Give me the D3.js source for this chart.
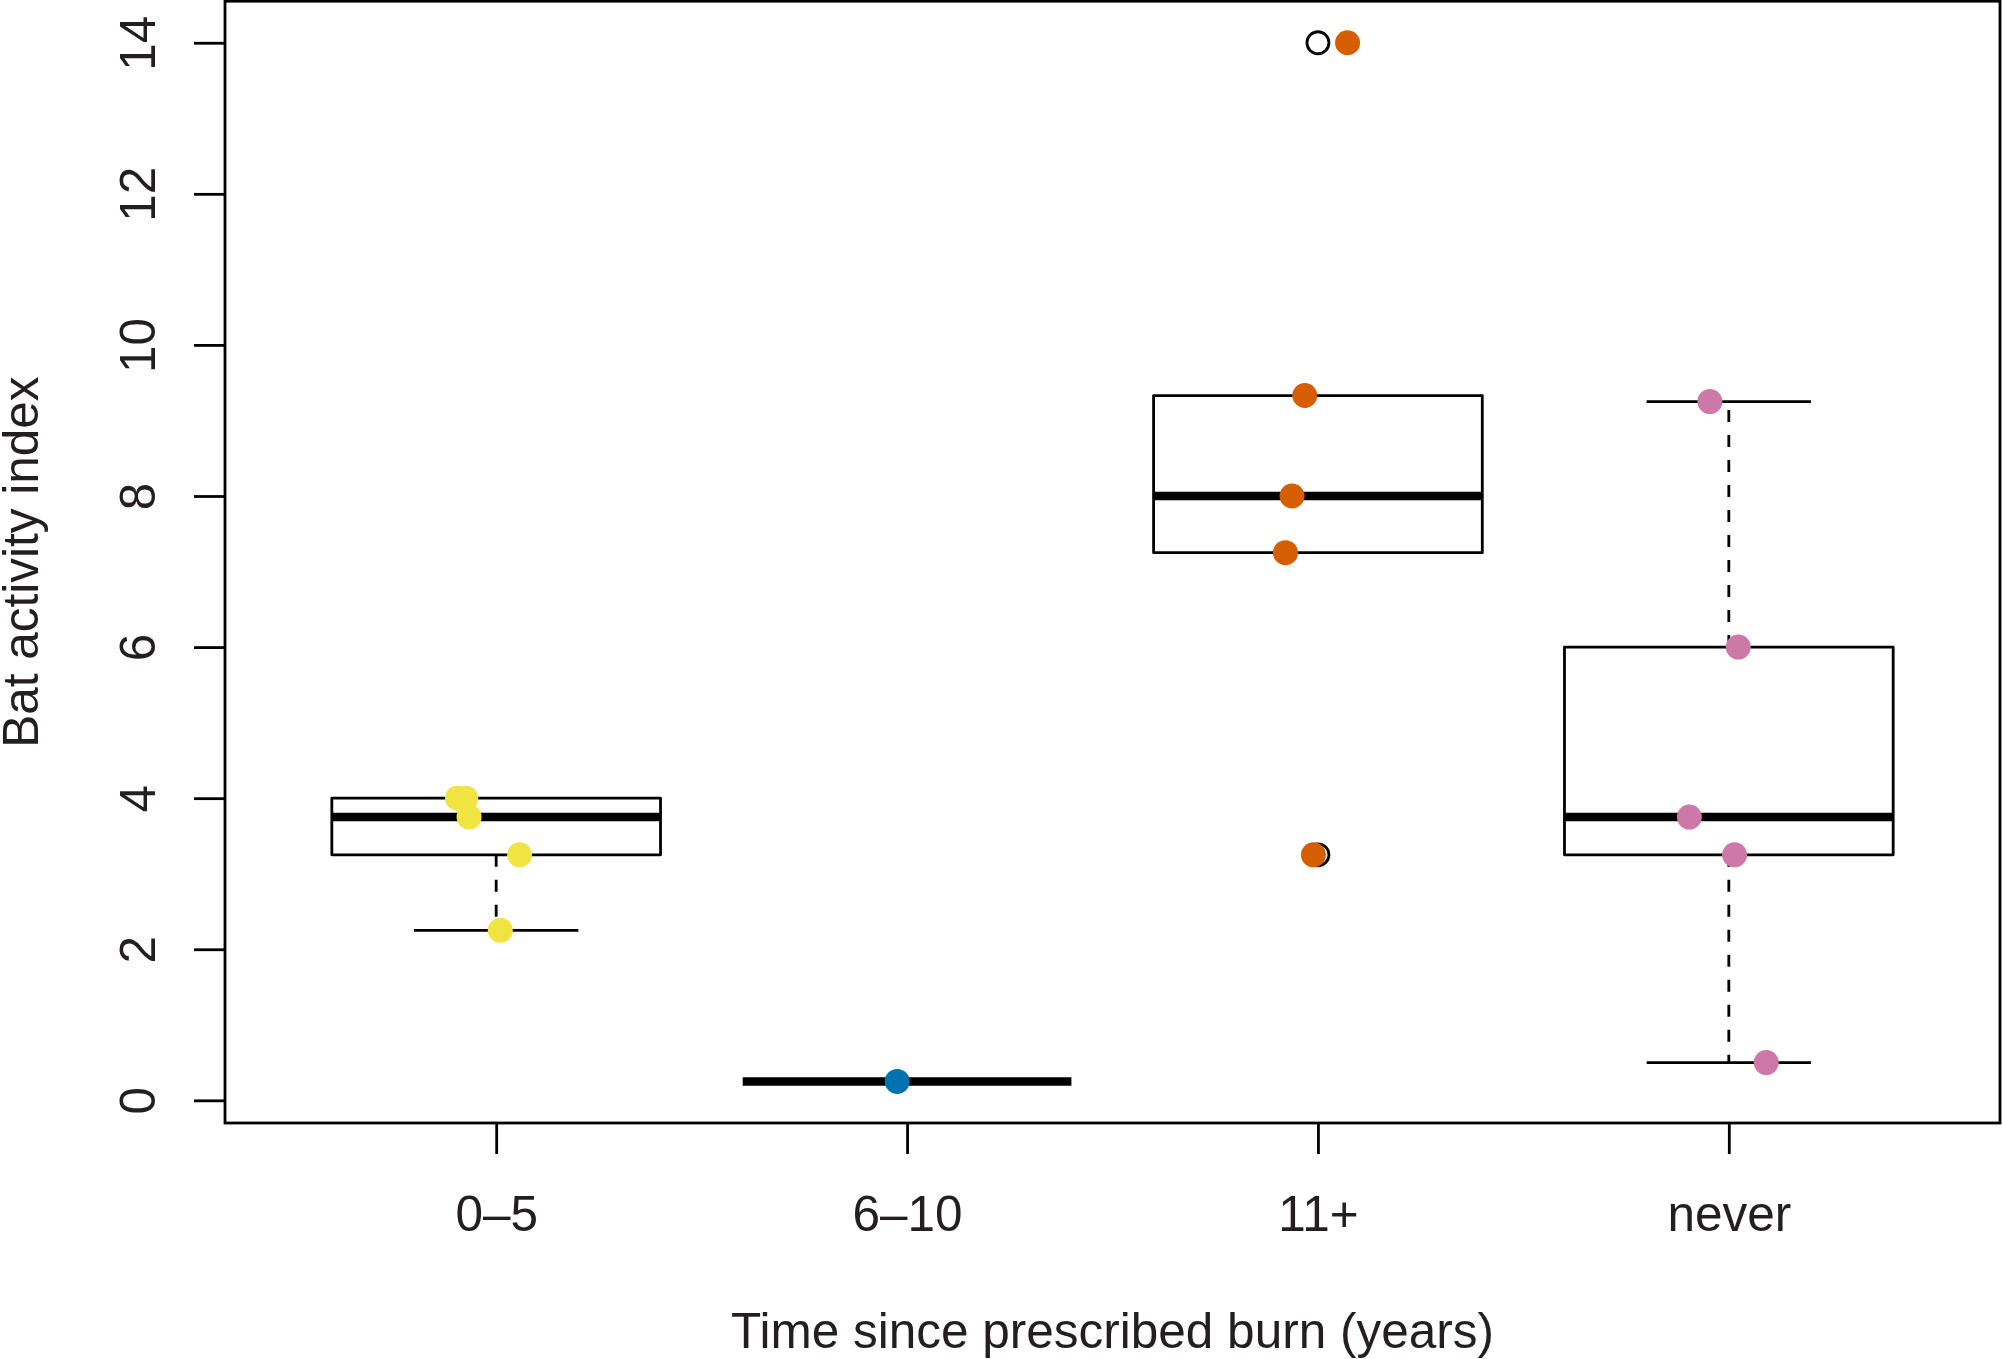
<!DOCTYPE html>
<html>
<head>
<meta charset="utf-8">
<script src="https://cdn.jsdelivr.net/npm/d3@7"></script>
<style>
  html, body { margin: 0; padding: 0; background: #fff; }
  svg { display: block; }
  text { font-family: "Liberation Sans", Arial, Helvetica, sans-serif; fill: #231f20; }
</style>
</head>
<body>
<svg id="chart" width="2002" height="1359"></svg>
<script>
// ---------------- data ----------------
const categories = ["0\u20135", "6\u201310", "11+", "never"];
const values05    = [4, 4, 3.75, 3.25, 2.25];
const values610   = [0.25];
const values11    = [14, 9.33, 8, 7.25, 3.25];
const valuesNever = [9.25, 6, 3.75, 3.25, 0.5];
// horizontal jitter of the overlaid points (in category units)
const jitter05    = [-0.094, -0.074, -0.066, 0.057, 0.010];
const jitter610   = [-0.024];
const jitter11    = [0.072, -0.032, -0.063, -0.079, -0.011];
const jitterNever = [-0.046, 0.023, -0.096, 0.014, 0.091];
const pointColors = ["#F0E442", "#0072B2", "#D55E00", "#CC79A7"];
const yTicks = [0, 2, 4, 6, 8, 10, 12, 14];
const xTitle = "Time since prescribed burn (years)";
const yTitle = "Bat activity index";

const groups = [values05, values610, values11, valuesNever];
const jitters = [jitter05, jitter610, jitter11, jitterNever];

// ---------------- layout ----------------
const plot = { left: 225, right: 2000, top: 1.2, bottom: 1123 };
const fontSize = 49.5;
const boxWex = 0.8, stapleWex = 0.5;
const lw = 2.8;

// R-style fivenum (Tukey hinges)
function fivenum(arr) {
  const x = arr.slice().sort((a, b) => a - b);
  const n = x.length;
  const n4 = Math.floor((n + 3) / 2) / 2;
  const d = [1, n4, (n + 1) / 2, n + 1 - n4, n];
  return d.map(v => 0.5 * (x[Math.floor(v) - 1] + x[Math.ceil(v) - 1]));
}
function boxStats(arr) {
  const f = fivenum(arr);
  const iqr = f[3] - f[1];
  const lo = f[1] - 1.5 * iqr, hi = f[3] + 1.5 * iqr;
  const inside = arr.filter(v => v >= lo && v <= hi);
  return {
    wlo: d3.min(inside), q1: f[1], med: f[2], q3: f[3], whi: d3.max(inside),
    out: arr.filter(v => v < lo || v > hi)
  };
}
const stats = groups.map(boxStats);

// R-style axis extents (4% extension)
const all = groups.flat();
const [ymin, ymax] = d3.extent(all);
const ypad = (ymax - ymin) * 0.04;
const n = categories.length;
const xpad = n * 0.04;

const x = d3.scaleLinear().domain([0.5 - xpad, n + 0.5 + xpad]).range([plot.left, plot.right]);
const y = d3.scaleLinear().domain([ymin - ypad, ymax + ypad]).range([plot.bottom, plot.top]);

const svg = d3.select("#chart");

// ---------------- boxplots ----------------
const g = svg.append("g");
stats.forEach((s, i) => {
  const cx = i + 1;
  const half = boxWex / 2, sHalf = boxWex * stapleWex / 2;
  // whiskers (dashed) and staples
  [[s.q1, s.wlo], [s.q3, s.whi]].forEach(([a, b]) => {
    if (a !== b) {
      g.append("line")
        .attr("x1", x(cx)).attr("x2", x(cx))
        .attr("y1", y(a)).attr("y2", y(b))
        .attr("stroke", "#000").attr("stroke-width", lw)
        .attr("stroke-dasharray", "12,13");
      g.append("line")
        .attr("x1", x(cx - sHalf)).attr("x2", x(cx + sHalf))
        .attr("y1", y(b)).attr("y2", y(b))
        .attr("stroke", "#000").attr("stroke-width", lw);
    }
  });
  // box
  g.append("rect")
    .attr("x", x(cx - half)).attr("width", x(cx + half) - x(cx - half))
    .attr("y", y(s.q3)).attr("height", y(s.q1) - y(s.q3))
    .attr("fill", "none").attr("stroke", "#000").attr("stroke-width", lw)
    .attr("stroke-linejoin", "round");
  // median
  g.append("line")
    .attr("x1", x(cx - half)).attr("x2", x(cx + half))
    .attr("y1", y(s.med)).attr("y2", y(s.med))
    .attr("stroke", "#000").attr("stroke-width", 8.5)
    .attr("stroke-linecap", "butt");
  // outliers (open circles)
  s.out.forEach(v => {
    g.append("circle")
      .attr("cx", x(cx)).attr("cy", y(v)).attr("r", 11)
      .attr("fill", "none").attr("stroke", "#000").attr("stroke-width", 2.8);
  });
});

// ---------------- jittered points ----------------
const pts = [];
groups.forEach((vals, i) => vals.forEach((v, j) => pts.push({ cx: i + 1 + jitters[i][j], v, c: pointColors[i] })));
svg.append("g").selectAll("circle").data(pts).join("circle")
  .attr("cx", d => x(d.cx)).attr("cy", d => y(d.v)).attr("r", 12.5)
  .attr("fill", d => d.c);

// ---------------- frame ----------------
svg.append("rect")
  .attr("x", plot.left).attr("y", plot.top)
  .attr("width", plot.right - plot.left).attr("height", plot.bottom - plot.top)
  .attr("fill", "none").attr("stroke", "#000").attr("stroke-width", 2.8);

// ---------------- axes ----------------
const yAxis = svg.append("g").attr("transform", `translate(${plot.left},0)`)
  .call(d3.axisLeft(y).tickValues(yTicks).tickSize(31).tickFormat(d3.format("d")));
yAxis.select(".domain").remove();
yAxis.selectAll(".tick line").attr("stroke", "#000").attr("stroke-width", lw);
yAxis.selectAll(".tick text")
  .attr("x", 0).attr("y", -70).attr("dy", 0)
  .attr("transform", "rotate(-90)")
  .attr("text-anchor", "middle")
  .style("font-size", fontSize + "px").attr("fill", "#231f20");

const xAxis = svg.append("g").attr("transform", `translate(0,${plot.bottom})`)
  .call(d3.axisBottom(x).tickValues(d3.range(1, n + 1)).tickSize(31).tickFormat(d => categories[d - 1]));
xAxis.select(".domain").remove();
xAxis.selectAll(".tick line").attr("stroke", "#000").attr("stroke-width", lw);
xAxis.selectAll(".tick text")
  .attr("y", 108).attr("dy", 0)
  .style("font-size", fontSize + "px").attr("fill", "#231f20");

// ---------------- titles ----------------
svg.append("text")
  .attr("x", (plot.left + plot.right) / 2).attr("y", 1348)
  .attr("text-anchor", "middle").style("font-size", fontSize + "px")
  .text(xTitle);
svg.append("text")
  .attr("transform", `translate(38,${(plot.top + plot.bottom) / 2}) rotate(-90)`)
  .attr("text-anchor", "middle").style("font-size", fontSize + "px")
  .text(yTitle);
</script>
</body>
</html>
